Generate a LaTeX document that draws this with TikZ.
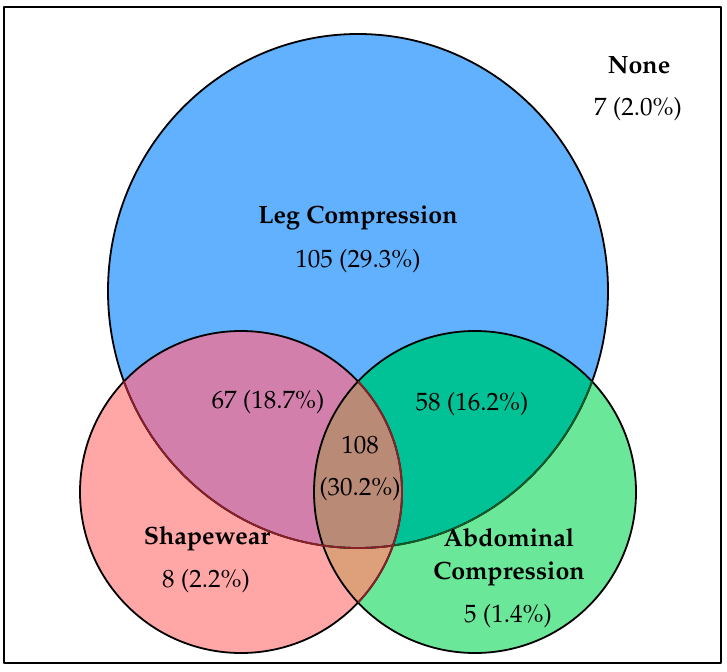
\documentclass[tikz,border=0pt]{standalone}
\usepackage[T1]{fontenc}
\renewcommand{\rmdefault}{ppl}
\definecolor{legblue}{RGB}{98,177,254}
\definecolor{shapered}{RGB}{255,166,166}
\definecolor{abdgreen}{RGB}{107,231,154}
\definecolor{legshape}{RGB}{210,127,171}
\definecolor{legabd}{RGB}{0,194,150}
\definecolor{shapeabd}{RGB}{221,160,122}
\definecolor{allthree}{RGB}{185,138,118}
\definecolor{rimred}{RGB}{140,32,40}
\definecolor{rimgreen}{RGB}{20,90,40}

\begin{document}
\begin{tikzpicture}[
    x=1pt,y=-1pt,
    line join=round,line cap=round,
    label/.style={font=\fontsize{25}{30}\selectfont,inner sep=0pt,
        text height=17pt,text depth=5pt},
    title/.style={label,font=\fontsize{25}{30}\selectfont\bfseries},
    rim/.style={line width=1.8pt}
  ]
    \useasboundingbox (0,0) rectangle (727,671);
    \draw[line width=2pt] (4,7) rectangle (721,663);

    % plain fills
    \fill[legblue]   (358,291) ellipse [x radius=250pt,y radius=257pt];
    \fill[shapered]  (241,492) circle [radius=161pt];
    \fill[abdgreen]  (475,492) circle [radius=161pt];

    % overlaps
    \begin{scope}
        \clip (241,492) circle [radius=161pt];
        \fill[shapeabd] (475,492) circle [radius=161pt];
    \end{scope}
    \begin{scope}
        \clip (358,291) ellipse [x radius=250pt,y radius=257pt];
        \fill[legshape] (241,492) circle [radius=161pt];
        \fill[legabd]   (475,492) circle [radius=161pt];
        \clip (241,492) circle [radius=161pt];
        \fill[allthree] (475,492) circle [radius=161pt];
    \end{scope}

    % outlines
    \draw[rim] (358,291) ellipse [x radius=250pt,y radius=257pt];
    \draw[rim] (241,492) circle [radius=161pt];
    \draw[rim] (475,492) circle [radius=161pt];
    \begin{scope}
        \clip (475,492) circle [radius=161pt];
        \draw[rim,rimgreen] (358,291) ellipse [x radius=250pt,y radius=257pt];
        \draw[rim,rimred] (241,492) circle [radius=161pt];
    \end{scope}
    \begin{scope}
        \clip (241,492) circle [radius=161pt];
        \draw[rim,rimred] (358,291) ellipse [x radius=250pt,y radius=257pt];
    \end{scope}

    % texts
    \node[title] (legt)   at (358,217) {Leg Compression};
    \node[label] (legn)   at (358,261) {105 (29.3\%)};
    \node[title] (nonet)  at (639,68)  {None};
    \node[label] (nonen)  at (638,110) {7 (2.0\%)};
    \node[label] (legsh)  at (268,402) {67 (18.7\%)};
    \node[label] (legab)  at (472,404) {58 (16.2\%)};
    \node[label] (allt)   at (360,447) {108};
    \node[label] (alln)   at (360,489) {(30.2\%)};
    \node[title] (shapet) at (207,538) {Shapewear};
    \node[label] (shapen) at (206,581) {8 (2.2\%)};
    \node[title] (abdt)   at (509,540) {Abdominal};
    \node[title] (abdt2)  at (509,573) {Compression};
    \node[label] (abdn)   at (508,616) {5 (1.4\%)};
\end{tikzpicture}
\end{document}
